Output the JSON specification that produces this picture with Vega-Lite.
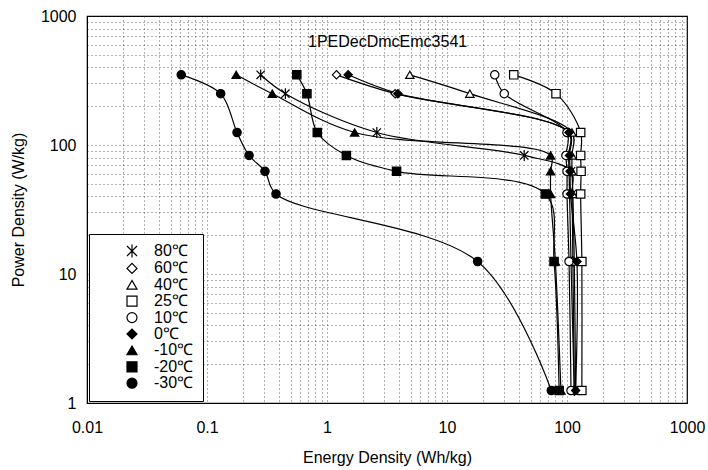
{
  "$schema": "https://vega.github.io/schema/vega-lite/v6.json",
  "width": 708,
  "height": 470,
  "autosize": {"type": "fit", "contains": "padding"},
  "padding": {"left": 10, "top": 8, "right": 3, "bottom": 5},
  "background": "white",
  "datasets": {
    "curves": [
      {"s": "80℃", "e": 0.28, "p": 350}, {"s": "80℃", "e": 0.45, "p": 250}, {"s": "80℃", "e": 2.6, "p": 125}, {"s": "80℃", "e": 44, "p": 83}, {"s": "80℃", "e": 108, "p": 62.5}, {"s": "80℃", "e": 110, "p": 41.7}, {"s": "80℃", "e": 112, "p": 12.5}, {"s": "80℃", "e": 115, "p": 1.25},
      {"s": "60℃", "e": 1.2, "p": 350}, {"s": "60℃", "e": 3.7, "p": 250}, {"s": "60℃", "e": 103, "p": 125}, {"s": "60℃", "e": 103, "p": 83}, {"s": "60℃", "e": 104, "p": 62.5}, {"s": "60℃", "e": 105, "p": 41.7}, {"s": "60℃", "e": 108, "p": 12.5}, {"s": "60℃", "e": 115, "p": 1.25},
      {"s": "40℃", "e": 4.9, "p": 350}, {"s": "40℃", "e": 15.5, "p": 250}, {"s": "40℃", "e": 110, "p": 125}, {"s": "40℃", "e": 110, "p": 83}, {"s": "40℃", "e": 110, "p": 62.5}, {"s": "40℃", "e": 112, "p": 41.7}, {"s": "40℃", "e": 115, "p": 12.5}, {"s": "40℃", "e": 118, "p": 1.25},
      {"s": "25℃", "e": 36, "p": 350}, {"s": "25℃", "e": 81, "p": 250}, {"s": "25℃", "e": 130, "p": 125}, {"s": "25℃", "e": 130, "p": 83}, {"s": "25℃", "e": 131, "p": 62.5}, {"s": "25℃", "e": 130, "p": 41.7}, {"s": "25℃", "e": 133, "p": 12.5}, {"s": "25℃", "e": 133, "p": 1.25},
      {"s": "10℃", "e": 25, "p": 350}, {"s": "10℃", "e": 30, "p": 250}, {"s": "10℃", "e": 100, "p": 125}, {"s": "10℃", "e": 98, "p": 83}, {"s": "10℃", "e": 100, "p": 62.5}, {"s": "10℃", "e": 100, "p": 41.7}, {"s": "10℃", "e": 104, "p": 12.5}, {"s": "10℃", "e": 108, "p": 1.25},
      {"s": "0℃", "e": 1.5, "p": 350}, {"s": "0℃", "e": 3.9, "p": 250}, {"s": "0℃", "e": 104, "p": 125}, {"s": "0℃", "e": 105, "p": 83}, {"s": "0℃", "e": 106, "p": 62.5}, {"s": "0℃", "e": 107, "p": 41.7}, {"s": "0℃", "e": 121, "p": 12.5}, {"s": "0℃", "e": 118, "p": 1.25},
      {"s": "-10℃", "e": 0.175, "p": 350}, {"s": "-10℃", "e": 0.35, "p": 250}, {"s": "-10℃", "e": 1.7, "p": 125}, {"s": "-10℃", "e": 73, "p": 83}, {"s": "-10℃", "e": 73, "p": 62.5}, {"s": "-10℃", "e": 73, "p": 41.7}, {"s": "-10℃", "e": 80, "p": 12.5}, {"s": "-10℃", "e": 89, "p": 1.25},
      {"s": "-20℃", "e": 0.56, "p": 350}, {"s": "-20℃", "e": 0.68, "p": 250}, {"s": "-20℃", "e": 0.83, "p": 125}, {"s": "-20℃", "e": 1.45, "p": 83}, {"s": "-20℃", "e": 3.8, "p": 62.5}, {"s": "-20℃", "e": 66, "p": 41.7}, {"s": "-20℃", "e": 78, "p": 12.5}, {"s": "-20℃", "e": 86, "p": 1.25},
      {"s": "-30℃", "e": 0.061, "p": 350}, {"s": "-30℃", "e": 0.13, "p": 250}, {"s": "-30℃", "e": 0.178, "p": 125}, {"s": "-30℃", "e": 0.224, "p": 83}, {"s": "-30℃", "e": 0.304, "p": 62.5}, {"s": "-30℃", "e": 0.376, "p": 41.7}, {"s": "-30℃", "e": 18, "p": 12.5}, {"s": "-30℃", "e": 74, "p": 1.25}
    ],
    "note": [{"t": "1PEDecDmcEmc3541", "e": 3.2, "p": 630}]
  },
  "layer": [
    {
      "data": {"name": "curves"},
      "mark": {"type": "line", "interpolate": "catmull-rom", "color": "black", "strokeWidth": 1.2},
      "encoding": {
        "x": {"field": "e", "type": "quantitative"},
        "y": {"field": "p", "type": "quantitative"},
        "detail": {"field": "s"},
        "order": {"field": "p", "sort": "descending"}
      }
    },
    {
      "data": {"name": "curves"},
      "mark": {"type": "point", "filled": true, "strokeWidth": 1.2, "opacity": 1, "size": 70},
      "encoding": {
        "x": {
          "field": "e", "type": "quantitative",
          "scale": {"type": "log", "domain": [0.01, 1000], "nice": false},
          "axis": {
            "title": "Energy Density (Wh/kg)",
            "values": [0.01,0.02,0.03,0.04,0.05,0.06,0.07,0.08,0.09,0.1,0.2,0.3,0.4,0.5,0.6,0.7,0.8,0.9,1,2,3,4,5,6,7,8,9,10,20,30,40,50,60,70,80,90,100,200,300,400,500,600,700,800,900,1000],
            "labelExpr": "abs(log(datum.value)/LN10 - round(log(datum.value)/LN10)) < 1e-6 ? format(datum.value, '~g') : ''",
            "labelPadding": 16,
            "titlePadding": 14
          }
        },
        "y": {
          "field": "p", "type": "quantitative",
          "scale": {"type": "log", "domain": [1, 1000], "nice": false},
          "axis": {
            "title": "Power Density (W/kg)",
            "values": [1,2,3,4,5,6,7,8,9,10,20,30,40,50,60,70,80,90,100,200,300,400,500,600,700,800,900,1000],
            "labelExpr": "abs(log(datum.value)/LN10 - round(log(datum.value)/LN10)) < 1e-6 ? format(datum.value, '~g') : ''",
            "labelPadding": 11,
            "titlePadding": 14
          }
        },
        "fill": {
          "field": "s", "type": "nominal",
          "scale": {
            "domain": ["80℃", "60℃", "40℃", "25℃", "10℃", "0℃", "-10℃", "-20℃", "-30℃"],
            "range": ["white", "white", "white", "white", "white", "black", "black", "black", "black"]
          }
        },
        "stroke": {
          "field": "s", "type": "nominal",
          "scale": {
            "domain": ["80℃", "60℃", "40℃", "25℃", "10℃", "0℃", "-10℃", "-20℃", "-30℃"],
            "range": ["black", "black", "black", "black", "black", "black", "black", "black", "black"]
          }
        },
        "shape": {
          "field": "s", "type": "nominal",
          "scale": {
            "domain": ["80℃", "60℃", "40℃", "25℃", "10℃", "0℃", "-10℃", "-20℃", "-30℃"],
            "range": ["M-1,-1L1,1M-1,1L1,-1M0,-1.3L0,1.3", "diamond", "triangle-up", "square", "circle", "diamond", "triangle-up", "square", "circle"]
          },
          "legend": {
            "title": null,
            "orient": "bottom-left",
            "offset": 2,
            "padding": 9,
            "strokeColor": "black",
            "fillColor": "white",
            "symbolOffset": 26,
            "labelOffset": 14,
            "labelFontSize": 16,
            "rowPadding": 0.4,
            "symbolStrokeWidth": 1.2
          }
        }
      }
    },
    {
      "data": {"name": "note"},
      "mark": {"type": "text", "fontSize": 16, "align": "center", "baseline": "middle", "color": "black"},
      "encoding": {
        "x": {"field": "e", "type": "quantitative"},
        "y": {"field": "p", "type": "quantitative"},
        "text": {"field": "t"}
      }
    }
  ],
  "config": {
    "font": "Liberation Sans",
    "view": {"stroke": "black", "strokeWidth": 1.2},
    "axis": {
      "labelFontSize": 16,
      "titleFontSize": 16,
      "titleFontWeight": "normal",
      "labelColor": "black",
      "titleColor": "black",
      "domainColor": "black",
      "ticks": false,
      "grid": true,
      "gridColor": "#222",
      "gridDash": [1, 3],
      "gridOpacity": 0.7,
      "labelOverlap": false,
      "labelBound": false,
      "labelFlush": false
    },
    "legend": {"labelColor": "black", "labelFont": "Liberation Sans"}
  }
}
